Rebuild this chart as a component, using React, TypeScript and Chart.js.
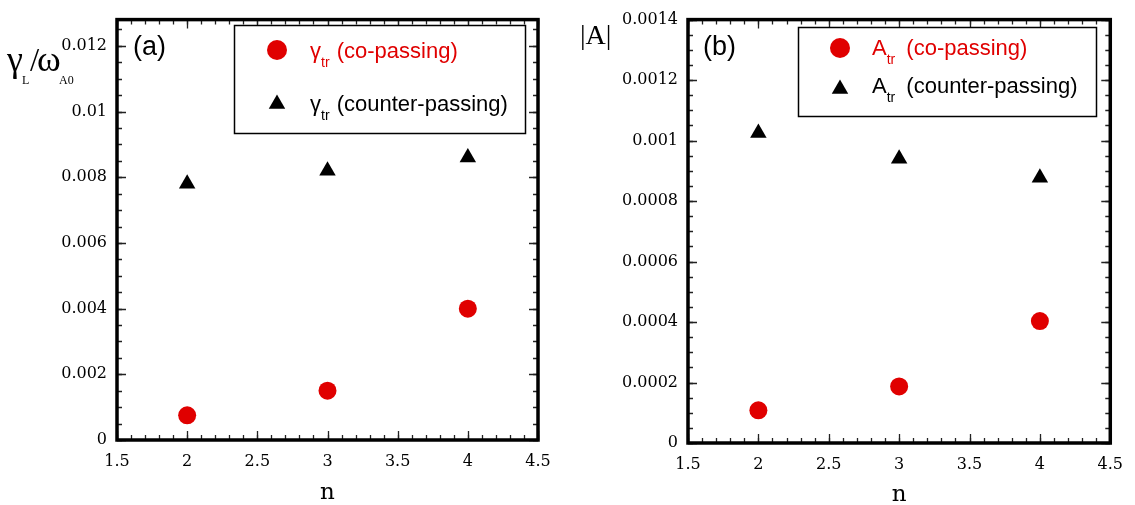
import React, { useEffect, useRef } from "react";
import { Chart, registerables } from "chart.js";

Chart.register(...registerables);

// ---------- data ----------
const nValues = [2, 3, 4];
const gammaCoPassing = [0.00075, 0.0015, 0.004];
const gammaCounterPassing = [0.0078, 0.0082, 0.0086];
const ampCoPassing = [0.000108, 0.000187, 0.000403];
const ampCounterPassing = [0.001025, 0.00094, 0.000877];

const xTickValues = [1.5, 2, 2.5, 3, 3.5, 4, 4.5];
const xTickLabels = ["1.5", "2", "2.5", "3", "3.5", "4", "4.5"];
const yTickValuesA = [0, 0.002, 0.004, 0.006, 0.008, 0.01, 0.012];
const yTickLabelsA = ["0", "0.002", "0.004", "0.006", "0.008", "0.01", "0.012"];
const yTickValuesB = [0, 0.0002, 0.0004, 0.0006, 0.0008, 0.001, 0.0012, 0.0014];
const yTickLabelsB = ["0", "0.0002", "0.0004", "0.0006", "0.0008", "0.001", "0.0012", "0.0014"];

const RED = "#e00000";
const TICK_FONT = { family: "'DejaVu Serif', serif", size: 16 };

type Row = {
  marker: "circle" | "triangle";
  color: string;
  main: string;
  sub: string;
  rest: string;
  mx: number;
  my: number;
  tx: number;
  ty: number;
  gap: number;
};

type Spec = {
  width: number;
  height: number;
  area: { left: number; top: number; right: number; bottom: number };
  xMin: number;
  xMax: number;
  yMax: number;
  yTicks: number[];
  yLabels: string[];
  xMinor: number;
  yMinor: number;
  co: number[];
  counter: number[];
  panel: { text: string; x: number; y: number };
  legendBox: [number, number, number, number];
  rows: Row[];
  drawYTitle: (ctx: CanvasRenderingContext2D) => void;
  nBaseline: number;
};

function drawMarker(ctx: CanvasRenderingContext2D, kind: string, x: number, y: number, r: number, color: string) {
  ctx.fillStyle = color;
  ctx.beginPath();
  if (kind === "circle") {
    ctx.arc(x, y, r, 0, Math.PI * 2);
  } else {
    let rad = 0;
    ctx.moveTo(x + Math.sin(rad) * r, y - Math.cos(rad) * r);
    rad += (2 * Math.PI) / 3;
    ctx.lineTo(x + Math.sin(rad) * r, y - Math.cos(rad) * r);
    rad += (2 * Math.PI) / 3;
    ctx.lineTo(x + Math.sin(rad) * r, y - Math.cos(rad) * r);
    ctx.closePath();
  }
  ctx.fill();
}

function makePlugin(spec: Spec) {
  return {
    id: "decor",
    afterDatasetsDraw(chart: any) {
      const ctx: CanvasRenderingContext2D = chart.ctx;
      const a = chart.chartArea;
      const xs = chart.scales.x;
      const ys = chart.scales.y;
      ctx.save();
      ctx.strokeStyle = "#222";
      ctx.lineWidth = 1.3;
      const xTick = (v: number, len: number) => {
        const px = Math.round(xs.getPixelForValue(v)) + 0.5;
        ctx.beginPath();
        ctx.moveTo(px, a.bottom);
        ctx.lineTo(px, a.bottom - len);
        ctx.moveTo(px, a.top);
        ctx.lineTo(px, a.top + len);
        ctx.stroke();
      };
      const yTick = (v: number, len: number) => {
        const py = Math.round(ys.getPixelForValue(v)) + 0.5;
        ctx.beginPath();
        ctx.moveTo(a.left, py);
        ctx.lineTo(a.left + len, py);
        ctx.moveTo(a.right, py);
        ctx.lineTo(a.right - len, py);
        ctx.stroke();
      };
      const nx = Math.round((spec.xMax - spec.xMin) / spec.xMinor);
      for (let i = 0; i <= nx; i++) xTick(spec.xMin + i * spec.xMinor, 5);
      xTickValues.forEach((v) => xTick(v, 9));
      const ny = Math.floor(spec.yMax / spec.yMinor + 1e-6);
      for (let i = 0; i <= ny; i++) yTick(i * spec.yMinor, 5);
      spec.yTicks.forEach((v) => yTick(v, 9));
      ctx.strokeStyle = "#000";
      ctx.lineWidth = 3.5;
      ctx.strokeRect(a.left, a.top, a.right - a.left, a.bottom - a.top);
      ctx.restore();
    },
    afterDraw(chart: any) {
      const ctx: CanvasRenderingContext2D = chart.ctx;
      const a = chart.chartArea;
      ctx.save();
      // legend box
      const [bx, by, bw, bh] = spec.legendBox;
      ctx.fillStyle = "#fff";
      ctx.fillRect(bx, by, bw, bh);
      ctx.strokeStyle = "#000";
      ctx.lineWidth = 1.5;
      ctx.strokeRect(bx + 0.5, by + 0.5, bw, bh);
      ctx.textBaseline = "alphabetic";
      ctx.textAlign = "left";
      spec.rows.forEach((row) => {
        drawMarker(ctx, row.marker, row.mx, row.my, row.marker === "circle" ? 10 : 9.5, row.color);
        ctx.fillStyle = row.color;
        ctx.font = "22px 'Liberation Sans', Arial, sans-serif";
        ctx.fillText(row.main, row.tx, row.ty);
        let x = row.tx + ctx.measureText(row.main).width;
        ctx.font = "14px 'Liberation Sans', Arial, sans-serif";
        ctx.fillText(row.sub, x, row.ty + 9);
        x += ctx.measureText(row.sub).width;
        ctx.font = "22px 'Liberation Sans', Arial, sans-serif";
        ctx.fillText(row.rest, x + row.gap, row.ty);
      });
      // panel label
      ctx.fillStyle = "#000";
      ctx.font = "27px 'Liberation Sans', Arial, sans-serif";
      ctx.fillText(spec.panel.text, spec.panel.x, spec.panel.y);
      // x title
      ctx.font = "23px 'DejaVu Serif', serif";
      ctx.textAlign = "center";
      ctx.fillText("n", (a.left + a.right) / 2, spec.nBaseline);
      ctx.textAlign = "left";
      spec.drawYTitle(ctx);
      ctx.restore();
    },
  };
}

function makeChart(canvas: HTMLCanvasElement, spec: Spec) {
  const area = spec.area;
  return new Chart(canvas, {
    type: "scatter",
    data: {
      datasets: [
        {
          label: "co-passing",
          data: nValues.map((n, i) => ({ x: n, y: spec.co[i] })),
          pointStyle: "circle",
          pointRadius: 9,
          pointBackgroundColor: RED,
          pointBorderWidth: 0,
          borderColor: RED,
        },
        {
          label: "counter-passing",
          data: nValues.map((n, i) => ({ x: n, y: spec.counter[i] })),
          pointStyle: "triangle",
          pointRadius: 9.5,
          pointBackgroundColor: "#000",
          pointBorderWidth: 0,
          borderColor: "#000",
        },
      ],
    },
    options: {
      responsive: false,
      animation: false,
      devicePixelRatio: 1,
      layout: {
        padding: { left: 0, top: area.top, right: spec.width - area.right, bottom: 0 },
      },
      plugins: { legend: { display: false }, tooltip: { enabled: false } },
      scales: {
        x: {
          type: "linear",
          min: spec.xMin,
          max: spec.xMax,
          grid: { display: false, drawTicks: false },
          border: { display: false },
          afterBuildTicks: (s: any) => {
            s.ticks = xTickValues.map((v) => ({ value: v }));
          },
          afterFit: (s: any) => {
            s.height = spec.height - area.bottom;
          },
          ticks: {
            padding: 12,
            color: "#000",
            font: TICK_FONT,
            maxRotation: 0,
            autoSkip: false,
            callback: (v: any) => {
              const i = xTickValues.indexOf(Number(v));
              return i >= 0 ? xTickLabels[i] : "";
            },
          },
        },
        y: {
          type: "linear",
          min: 0,
          max: spec.yMax,
          grid: { display: false, drawTicks: false },
          border: { display: false },
          afterBuildTicks: (s: any) => {
            s.ticks = spec.yTicks.map((v) => ({ value: v }));
          },
          afterFit: (s: any) => {
            s.width = area.left;
          },
          ticks: {
            padding: 10,
            color: "#000",
            font: TICK_FONT,
            autoSkip: false,
            callback: (v: any) => {
              const i = spec.yTicks.findIndex((t) => Math.abs(t - Number(v)) < 1e-9);
              return i >= 0 ? spec.yLabels[i] : "";
            },
          },
        },
      },
    },
    plugins: [makePlugin(spec) as any],
  } as any);
}

const specA: Spec = {
  width: 567,
  height: 505,
  area: { left: 117, top: 17, right: 538, bottom: 440 },
  xMin: 1.5,
  xMax: 4.5,
  yMax: 0.0128,
  yTicks: yTickValuesA,
  yLabels: yTickLabelsA,
  xMinor: 0.1,
  yMinor: 0.0005,
  co: gammaCoPassing,
  counter: gammaCounterPassing,
  panel: { text: "(a)", x: 133, y: 55 },
  legendBox: [234, 25, 291, 108],
  rows: [
    { marker: "circle", color: RED, main: "γ", sub: "tr", rest: " (co-passing)", mx: 277, my: 50, tx: 310, ty: 58, gap: 1 },
    { marker: "triangle", color: "#000", main: "γ", sub: "tr", rest: " (counter-passing)", mx: 277, my: 104, tx: 310, ty: 111, gap: 1 },
  ],
  drawYTitle: (ctx) => {
    ctx.fillStyle = "#000";
    ctx.font = "36px 'Liberation Serif', serif";
    ctx.fillText("γ", 7, 71);
    ctx.font = "33px 'Liberation Serif', serif";
    ctx.fillText("/", 30, 71);
    ctx.font = "36px 'Liberation Serif', serif";
    ctx.fillText("ω", 37, 71);
    ctx.font = "12px 'Liberation Serif', serif";
    ctx.fillText("L", 22, 84);
    ctx.fillText("A0", 59, 84);
  },
  nBaseline: 499,
};

const specB: Spec = {
  width: 568,
  height: 505,
  area: { left: 121, top: 15, right: 548, bottom: 443 },
  xMin: 1.5,
  xMax: 4.5,
  yMax: 0.0014,
  yTicks: yTickValuesB,
  yLabels: yTickLabelsB,
  xMinor: 0.1,
  yMinor: 0.00005,
  co: ampCoPassing,
  counter: ampCounterPassing,
  panel: { text: "(b)", x: 136, y: 55 },
  legendBox: [231, 27, 298, 89],
  rows: [
    { marker: "circle", color: RED, main: "A", sub: "tr", rest: " (co-passing)", mx: 273, my: 48, tx: 305, ty: 55, gap: 5 },
    { marker: "triangle", color: "#000", main: "A", sub: "tr", rest: " (counter-passing)", mx: 273, my: 89, tx: 305, ty: 93, gap: 5 },
  ],
  drawYTitle: (ctx) => {
    ctx.fillStyle = "#000";
    ctx.font = "28px 'Liberation Serif', serif";
    ctx.fillText("|A|", 13, 44);
  },
  nBaseline: 501,
};

function Panel({ spec, left }: { spec: Spec; left: number }) {
  const ref = useRef<HTMLCanvasElement | null>(null);
  useEffect(() => {
    if (!ref.current) return;
    const chart = makeChart(ref.current, spec);
    return () => chart.destroy();
  }, [spec]);
  return (
    <canvas
      ref={ref}
      width={spec.width}
      height={spec.height}
      style={{ position: "absolute", left, top: 0, width: spec.width, height: spec.height }}
    />
  );
}

export default function App() {
  return (
    <div style={{ position: "absolute", left: 0, top: 0, width: 1135, height: 505, background: "#fff", overflow: "hidden" }}>
      <Panel spec={specA} left={0} />
      <Panel spec={specB} left={567} />
    </div>
  );
}
